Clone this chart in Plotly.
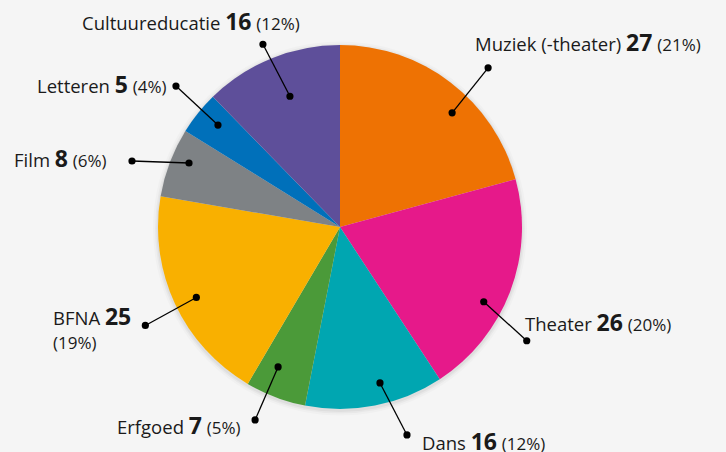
import math
import plotly.graph_objects as go

# data
categories = ["Muziek (-theater)", "Theater", "Dans", "Erfgoed", "BFNA", "Film", "Letteren", "Cultuureducatie"]
values = [27, 26, 16, 7, 25, 8, 5, 16]
percents = [21, 20, 12, 5, 19, 6, 4, 12]
colors = ["#ee7203", "#e6198a", "#00a6b1", "#4b9a39", "#f9b000", "#7e8285", "#0070ba", "#5e4f9a"]

# layout of the chart (pixels)
W, H = 726, 452
cx, cy, R = 340, 227, 182
# inner dot: angle nudge (deg) and radius, outer dot offset from inner dot
ang_nudge = [7.1, 6.7, -3.3, 3.1, -1.2, 2.2, 1.1, 1.2]
r_dot = [160, 162, 161, 153, 160, 164, 159, 140]
dot_off = [(36, -45), (43, 39), (27, 52), (-23, 53), (-51, 28), (-57, -2), (-42, -39), (-27, -52)]
lab_pos = [(473, 42, "left"), (523, 322, "left"), (420, 441, "left"), (243, 425, "right"),
           (51, 327, "left"), (109, 158, "right"), (169, 84, "right"), (302, 21, "right")]


def dom(r, dy=0):
    return dict(x=[(cx - r) / W, (cx + r) / W],
                y=[(H - cy - dy - r) / H, (H - cy - dy + r) / H])


fig = go.Figure()
# soft shadow behind the pie
for r, a in [(187, 0.02), (185, 0.03), (183.5, 0.04)]:
    fig.add_trace(go.Pie(values=[1], sort=False, marker=dict(colors=["rgba(0,0,0,%s)" % a], line=dict(width=0)),
                         textinfo="none", hoverinfo="skip", showlegend=False, domain=dom(r, 1.5)))
fig.add_trace(go.Pie(labels=categories, values=values, sort=False, direction="clockwise",
                     rotation=0, marker=dict(colors=colors, line=dict(width=0)),
                     textinfo="none", hoverinfo="label+value", showlegend=False,
                     domain=dom(R)))
# invisible pixel-space axes for leader lines
fig.add_trace(go.Scatter(x=[0, W], y=[0, H], mode="markers", marker=dict(opacity=0),
                         hoverinfo="skip", showlegend=False))

total = sum(values)
cum = 0
shapes = []
annotations = []
for i, v in enumerate(values):
    mid = math.radians((cum + v / 2) / total * 360 + ang_nudge[i])
    cum += v
    x1 = cx + r_dot[i] * math.sin(mid)
    y1 = cy - r_dot[i] * math.cos(mid)
    x2 = x1 + dot_off[i][0]
    y2 = y1 + dot_off[i][1]
    shapes.append(dict(type="line", x0=x1, y0=y1, x1=x2, y1=y2, xref="x", yref="y",
                       line=dict(color="black", width=1.3), layer="above"))
    for (px, py) in [(x1, y1), (x2, y2)]:
        shapes.append(dict(type="circle", x0=px - 3.6, x1=px + 3.6, y0=py - 3.6, y1=py + 3.6,
                           xref="x", yref="y", fillcolor="black", line=dict(width=0), layer="above"))
    name = categories[i]
    num = "<span style='font-size:23px'><b>%d</b></span>" % v
    pct = "<span style='font-size:17px'>(%d%%)</span>" % percents[i]
    if name == "BFNA":
        txt = name + " " + num + "<br>" + pct
    else:
        txt = name + " " + num + " " + pct
    lx, ly, anc = lab_pos[i]
    annotations.append(dict(x=lx, y=ly, xref="x", yref="y", text=txt, showarrow=False,
                            xanchor=anc, yanchor="middle", align="left",
                            font=dict(family="Open Sans", size=18.5, color="#1a1a1a")))

fig.update_layout(width=W, height=H, margin=dict(l=0, r=0, t=0, b=0),
                  paper_bgcolor="#f5f5f5", plot_bgcolor="rgba(0,0,0,0)",
                  xaxis=dict(range=[0, W], visible=False, fixedrange=True),
                  yaxis=dict(range=[H, 0], visible=False, fixedrange=True),
                  shapes=shapes, annotations=annotations)

fig.write_html("out.html", config={"displayModeBar": False},
               post_script="document.body.style.margin='0';")
